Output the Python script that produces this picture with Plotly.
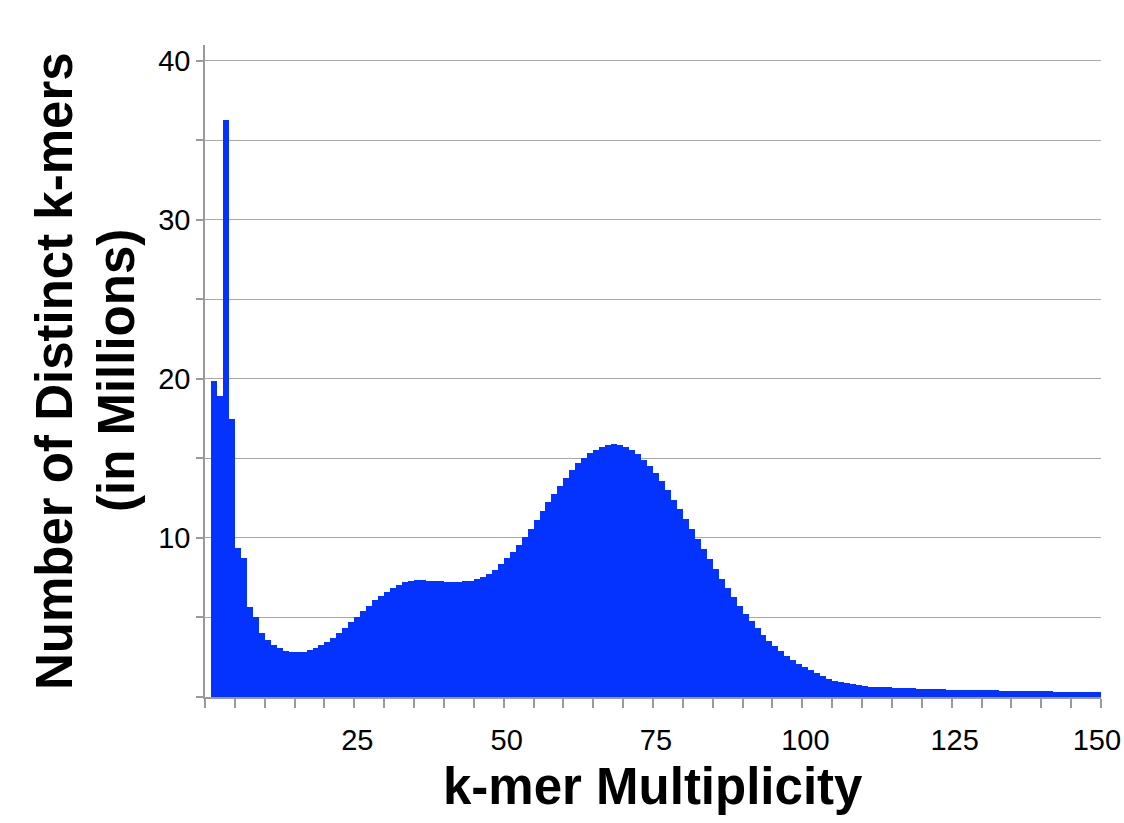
import plotly.graph_objects as go

# k-mer multiplicity bins (bin k covers [k, k+1))
multiplicity = list(range(1, 150))

# Number of distinct k-mers (millions)
distinct_kmers = [
    19.85, 18.9, 36.3, 17.5, 9.4, 8.73, 5.64, 5.0, 4.0, 3.6,
    3.25, 3.06, 2.9, 2.82, 2.8, 2.85, 2.96, 3.06, 3.25, 3.48,
    3.73, 4.03, 4.36, 4.7, 5.01, 5.39, 5.74, 6.08, 6.37, 6.62,
    6.86, 7.04, 7.21, 7.3, 7.34, 7.34, 7.32, 7.3, 7.27, 7.25,
    7.23, 7.23, 7.27, 7.32, 7.42, 7.57, 7.74, 7.99, 8.34, 8.72,
    9.12, 9.56, 10.04, 10.57, 11.11, 11.68, 12.24, 12.79, 13.29, 13.79,
    14.26, 14.7, 15.03, 15.32, 15.56, 15.74, 15.85, 15.89, 15.87, 15.74,
    15.53, 15.26, 14.91, 14.53, 14.07, 13.56, 13.0, 12.41, 11.8, 11.17,
    10.57, 9.94, 9.29, 8.66, 8.05, 7.42, 6.83, 6.27, 5.72, 5.25,
    4.78, 4.33, 3.93, 3.55, 3.19, 2.89, 2.58, 2.33, 2.1, 1.87,
    1.68, 1.51, 1.32, 1.15, 1.03, 0.94, 0.86, 0.8, 0.73, 0.69,
    0.66, 0.64, 0.62, 0.60, 0.58, 0.56, 0.55, 0.54, 0.52, 0.51,
    0.50, 0.49, 0.48, 0.47, 0.46, 0.45, 0.44, 0.44, 0.43, 0.42,
    0.41, 0.41, 0.40, 0.39, 0.39, 0.38, 0.37, 0.37, 0.36, 0.36,
    0.35, 0.34, 0.34, 0.33, 0.33, 0.32, 0.31, 0.31, 0.30,
]

x_tick_labels = ["25", "50", "75", "100", "125", "150"]
x_tick_vals = [25.5, 50.5, 75.5, 100.5, 125.5, 149.3]
y_tick_vals = [10, 20, 30, 40]
y_tick_labels = ["10", "20", "30", "40"]

x_title = "k-mer Multiplicity"
y_title_line1 = "Number of Distinct k-mers"
y_title_line2 = "(in Millions)"

FONT = "Liberation Sans, Arial, Helvetica, sans-serif"
AXIS_GRAY = "#9a9a9a"
GRID_GRAY = "#a8a8a8"

fig = go.Figure()
fig.add_trace(go.Bar(
    x=[k + 0.5 for k in multiplicity],
    y=distinct_kmers,
    width=1.0,
    marker=dict(color="#0433FF", line=dict(width=0)),
    hoverinfo="x+y",
))

fig.update_layout(
    width=1124, height=823,
    margin=dict(l=205, r=23, t=45, b=126, autoexpand=False),
    paper_bgcolor="white", plot_bgcolor="white",
    bargap=0, showlegend=False,
    font=dict(family=FONT, color="black"),
    xaxis=dict(
        range=[0, 150], showgrid=False, zeroline=False, automargin=False,
        showline=True, linecolor=AXIS_GRAY, linewidth=1.5,
        tickmode="array", tickvals=x_tick_vals, ticktext=x_tick_labels,
        ticks="", tickfont=dict(size=29, color="black", family=FONT),
        ticklabelstandoff=16,
        minor=dict(tickmode="linear", tick0=0, dtick=5, ticks="outside",
                   ticklen=9, tickwidth=1.5, tickcolor=AXIS_GRAY, showgrid=False),
    ),
    yaxis=dict(
        range=[0, 41], zeroline=False, automargin=False,
        showline=True, linecolor=AXIS_GRAY, linewidth=1.5,
        tickmode="array", tickvals=y_tick_vals, ticktext=y_tick_labels,
        ticks="outside", ticklen=7, tickwidth=1.5, tickcolor=AXIS_GRAY,
        showgrid=True, gridcolor=GRID_GRAY, gridwidth=1.2,
        tickfont=dict(size=29, color="black", family=FONT),
        minor=dict(tickmode="linear", tick0=0, dtick=5, ticks="outside",
                   ticklen=7, tickwidth=1.5, tickcolor=AXIS_GRAY,
                   showgrid=True, gridcolor=GRID_GRAY, gridwidth=1.2),
    ),
    annotations=[
        dict(text=f"<b>{x_title}</b>", xref="paper", yref="paper",
             x=0.5, y=-0.137, xanchor="center", yanchor="middle",
             showarrow=False, font=dict(size=51, family=FONT, color="black")),
        dict(text=f"<b>{y_title_line1}</b>", xref="paper", yref="paper",
             x=-0.1685, y=0.5, xanchor="center", yanchor="middle", textangle=-90,
             showarrow=False, font=dict(size=51, family=FONT, color="black")),
        dict(text=f"<b>{y_title_line2}</b>", xref="paper", yref="paper",
             x=-0.0993, y=0.5, xanchor="center", yanchor="middle", textangle=-90,
             showarrow=False, font=dict(size=51, family=FONT, color="black")),
    ],
)

fig.write_html("out.html")
